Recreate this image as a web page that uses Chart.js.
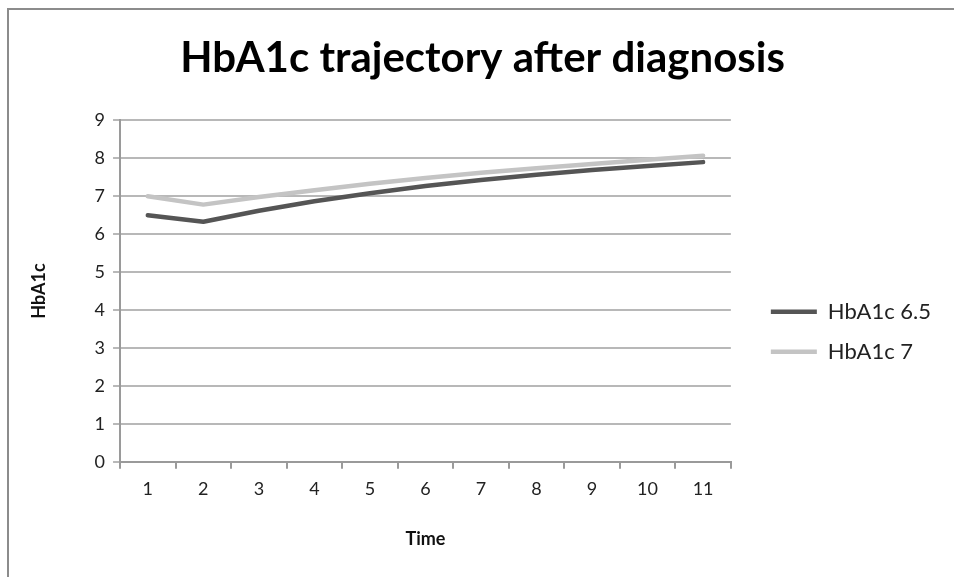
<!DOCTYPE html>
<html>
<head>
<meta charset="utf-8">
<script src="https://cdn.jsdelivr.net/npm/chart.js@4"></script>
<style>
  body { margin: 0; background: #fff; }
</style>
</head>
<body>
<canvas id="myChart" width="954" height="577"></canvas>
<script>
const timePoints = ["1", "2", "3", "4", "5", "6", "7", "8", "9", "10", "11"];
const hba1c65 = [6.5, 6.33, 6.62, 6.87, 7.08, 7.27, 7.43, 7.57, 7.69, 7.8, 7.9];
const hba1c7 = [7.0, 6.78, 6.98, 7.16, 7.33, 7.48, 7.62, 7.74, 7.85, 7.96, 8.07];
const yTicks = [0, 1, 2, 3, 4, 5, 6, 7, 8, 9];

const fontFamily = "Lato, 'Open Sans', sans-serif";

// grey frame on top and left like the pasted Excel chart
const framePlugin = {
  id: "frame",
  afterDraw(chart) {
    const ctx = chart.ctx;
    ctx.save();
    ctx.strokeStyle = "#8c8c8c";
    ctx.lineWidth = 2;
    ctx.beginPath();
    ctx.moveTo(8, 577);
    ctx.lineTo(8, 9);
    ctx.lineTo(954, 9);
    ctx.stroke();
    ctx.restore();
  }
};

new Chart("myChart", {
  type: "line",
  data: {
    labels: timePoints,
    datasets: [{
      label: "HbA1c 6.5",
      data: hba1c65,
      borderColor: "#555555",
      backgroundColor: "#555555",
      borderWidth: 4.5,
      pointRadius: 0,
      tension: 0,
      borderJoinStyle: "round",
      borderCapStyle: "round"
    }, {
      label: "HbA1c 7",
      data: hba1c7,
      borderColor: "#c4c4c4",
      backgroundColor: "#c4c4c4",
      borderWidth: 4.5,
      pointRadius: 0,
      tension: 0,
      borderJoinStyle: "round",
      borderCapStyle: "round"
    }]
  },
  options: {
    responsive: false,
    animation: false,
    layout: { padding: { left: 24, right: 13, top: 0, bottom: 23 } },
    plugins: {
      tooltip: { enabled: false },
      title: {
        display: true,
        text: "HbA1c trajectory after diagnosis",
        color: "#000",
        font: { family: fontFamily, size: 42, weight: "bold" },
        padding: { top: 33, bottom: 37 }
      },
      legend: {
        position: "right",
        maxWidth: 260,
        title: { display: true, text: "", padding: { top: 95, bottom: 0 } },
        labels: {
          usePointStyle: true,
          pointStyle: "line",
          pointStyleWidth: 46,
          color: "#222",
          padding: 18,
          font: { family: fontFamily, size: 22 }
        }
      }
    },
    scales: {
      x: {
        offset: true,
        grid: { offset: true, drawOnChartArea: false, tickLength: 7, color: "#9a9a9a", lineWidth: 2 },
        border: { color: "#9a9a9a", width: 2 },
        ticks: { color: "#222", padding: 10, maxRotation: 0, font: { family: fontFamily, size: 18 } },
        title: {
          display: true,
          text: "Time",
          color: "#111",
          font: { family: fontFamily, size: 18, weight: "bold" },
          padding: { top: 18 }
        }
      },
      y: {
        min: 0,
        max: 9,
        afterBuildTicks(axis) { axis.ticks = yTicks.map(v => ({ value: v })); },
        grid: { color: "#b8b8b8", lineWidth: 2, tickLength: 7 },
        border: { color: "#9a9a9a", width: 2 },
        ticks: { color: "#222", padding: 8, font: { family: fontFamily, size: 18 } },
        title: {
          display: true,
          text: "HbA1c",
          color: "#111",
          font: { family: fontFamily, size: 18, weight: "bold" },
          padding: { bottom: 37 }
        }
      },
      // empty spacer between plot and legend
      gap: {
        position: "right",
        min: 0,
        max: 9,
        grid: { display: false },
        border: { display: false },
        ticks: { display: false },
        afterFit(scale) { scale.width = 22; }
      }
    }
  },
  plugins: [framePlugin]
});
</script>
</body>
</html>
